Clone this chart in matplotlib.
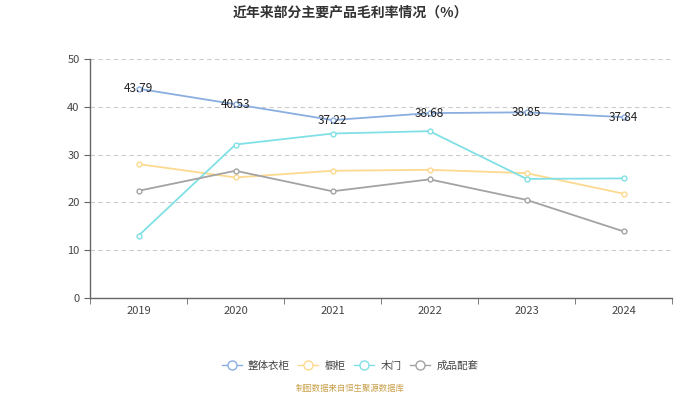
import matplotlib
matplotlib.use("Agg")
import matplotlib.pyplot as plt
from matplotlib.lines import Line2D

plt.rcParams['font.family'] = ['Noto Sans CJK SC', 'DejaVu Sans']

years = ['2019', '2020', '2021', '2022', '2023', '2024']
whole_wardrobe = [43.79, 40.53, 37.22, 38.68, 38.85, 37.84]
cabinet = [28.0, 25.2, 26.6, 26.8, 26.1, 21.8]
wood_door = [13.0, 32.1, 34.4, 34.9, 24.9, 25.0]
finished_goods = [22.4, 26.6, 22.3, 24.8, 20.5, 13.9]

series_names = ['整体衣柜', '橱柜', '木门', '成品配套']
colors = ['#8aaee0', '#fdd98f', '#80e0e6', '#a3a3a3']

fig = plt.figure(figsize=(7, 3.94), dpi=100)
ax = fig.add_axes([0.1286, 0.2444, 0.8314, 0.6056])

x = list(range(len(years)))
data = [whole_wardrobe, cabinet, wood_door, finished_goods]
for vals, c, name in zip(data, colors, series_names):
    ax.plot(x, vals, color=c, lw=1.3, marker='o', ms=3.5, mfc='white', mec=c, mew=1.0, label=name, zorder=3)

for xi, v in zip(x, whole_wardrobe):
    ax.text(xi, v, f'{v:.2f}', ha='center', va='center', fontsize=8.5, color='#222222', zorder=4)

ax.set_xlim(-0.5, len(years) - 0.5)
ax.set_ylim(0, 50)
ax.set_yticks([0, 10, 20, 30, 40, 50])
ax.set_xticks(x)
ax.set_xticklabels(years)
ax.set_xticks([i - 0.5 for i in range(len(years) + 1)], minor=True)
ax.tick_params(axis='x', which='major', length=0, labelsize=8, colors='#444444', pad=6)
ax.tick_params(axis='x', which='minor', length=4, color='#666666')
ax.tick_params(axis='y', length=4, color='#666666', labelsize=8, labelcolor='#444444')

ax.grid(axis='y', linestyle=(0, (4, 3)), color='#cccccc', lw=0.8)
ax.set_axisbelow(True)
for s in ['top', 'right']:
    ax.spines[s].set_visible(False)
for s in ['left', 'bottom']:
    ax.spines[s].set_color('#666666')
    ax.spines[s].set_linewidth(1.0)

fig.text(0.5, 0.968, '近年来部分主要产品毛利率情况（%）', ha='center', va='center', fontsize=10, fontweight='bold', color='#333333')

handles = [Line2D([0], [0], color=c, lw=1.0, marker='o', ms=6.5, mfc='white', mec=c) for c in colors]
fig.legend(handles, series_names, loc='center', bbox_to_anchor=(0.5, 0.071), ncol=4, frameon=False,
           fontsize=7.6, handlelength=1.9, columnspacing=0.8, handletextpad=0.6, labelcolor='#444444')

fig.text(0.5, 0.015, '制图数据来自恒生聚源数据库', ha='center', va='center', fontsize=6, color='#c9a04a')

fig.savefig('out.png', dpi=100)
